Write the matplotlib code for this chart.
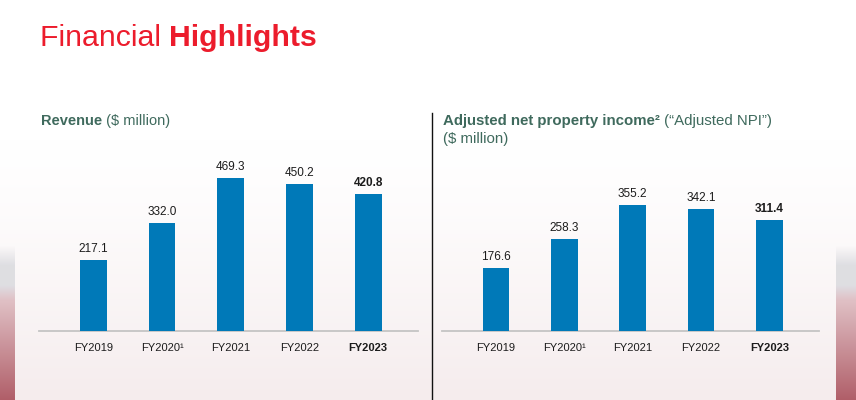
import numpy as np
import matplotlib
matplotlib.use("Agg")
import matplotlib.pyplot as plt
from matplotlib.lines import Line2D

# ---------------- data ----------------
years = ["FY2019", "FY2020¹", "FY2021", "FY2022", "FY2023"]
revenue = [217.1, 332.0, 469.3, 450.2, 420.8]
adj_npi = [176.6, 258.3, 355.2, 342.1, 311.4]
value_labels_rev = ["217.1", "332.0", "469.3", "450.2", "420.8"]
value_labels_npi = ["176.6", "258.3", "355.2", "342.1", "311.4"]

W, H = 856, 400
plt.rcParams["font.family"] = ["Liberation Sans", "DejaVu Sans"]

fig = plt.figure(figsize=(W / 100, H / 100), dpi=100)

# ---------------- background ----------------
bg = np.ones((H, W, 3))
ys = np.arange(H)
t = np.clip((ys - 140) / (H - 140), 0, 1) ** 1.3
base_top = np.array([1.0, 1.0, 1.0])
base_bot = np.array([245, 236, 237]) / 255
bg[:] = (base_top[None, :] * (1 - t[:, None]) + base_bot[None, :] * t[:, None])[:, None, :]

grey = np.array([222, 222, 226]) / 255
pink = np.array([224, 192, 197]) / 255
dark = np.array([176, 94, 104]) / 255

def strip(x0, x1):
    for y in range(245, H):
        if y < 265:
            a = (y - 245) / 20
            c = bg[y, x0] * (1 - a) + grey * a
        elif y < 285:
            c = grey
        elif y < 300:
            a = (y - 285) / 15
            c = grey * (1 - a) + pink * a
        else:
            s = (y - 300) / (H - 300)
            c = pink * (1 - s) + dark * s
        bg[y, x0:x1] = c

strip(0, 15)
strip(836, W)

bgax = fig.add_axes([0, 0, 1, 1], zorder=-10)
bgax.imshow(bg, aspect="auto", extent=(0, 1, 0, 1), interpolation="bilinear")
bgax.set_axis_off()

# ---------------- helpers ----------------
def fx(px):
    return px / W

def fy(py):
    return 1 - py / H

renderer = fig.canvas.get_renderer()

def rich_text(x, y, parts):
    """parts: list of (text, dict of kwargs); draws consecutively, pixel coordinates."""
    cx = x
    for s, kw in parts:
        t = fig.text(fx(cx), fy(y), s, va="baseline", ha="left", **kw)
        bb = t.get_window_extent(renderer=renderer)
        cx += bb.width

RED = "#ec1c2c"
SUB = "#3f6a5d"
BAR = "#0079b8"
TXT = "#1c1c1c"

# ---------------- titles ----------------
rich_text(40, 46, [("Financial ", dict(fontsize=21.8, color=RED)),
                   ("Highlights", dict(fontsize=21.8, color=RED, fontweight="bold"))])

rich_text(41, 125, [("Revenue", dict(fontsize=10.5, color=SUB, fontweight="bold")),
                    (" ($ million)", dict(fontsize=10.5, color=SUB))])

rich_text(443, 125, [("Adjusted net property income²", dict(fontsize=10.8, color=SUB, fontweight="bold")),
                     (" (“Adjusted NPI”)", dict(fontsize=10.8, color=SUB))])
rich_text(443, 143, [("($ million)", dict(fontsize=10.8, color=SUB))])

# divider
fig.add_artist(Line2D([fx(432), fx(432)], [fy(113), fy(400)], color="#111111", lw=1.0))

# ---------------- charts ----------------
def make_chart(left_px, right_px, base_px, px_per_unit, values, labels):
    height_px = 230
    ax = fig.add_axes([fx(left_px), fy(base_px), (right_px - left_px) / W, height_px / H])
    ax.set_facecolor("none")
    x = np.arange(len(values))
    ax.bar(x, values, width=0.39, color=BAR, zorder=3)
    ax.set_xlim(-0.79, 4.725)
    ax.set_ylim(0, height_px / px_per_unit)
    for i, (v, lab) in enumerate(zip(values, labels)):
        ax.annotate(lab, (i, v), xytext=(0, 8), textcoords="offset pixels",
                    ha="center", va="baseline", fontsize=8.5, color=TXT,
                    fontweight="bold" if i == len(values) - 1 else "normal")
    for s in ["top", "right", "left"]:
        ax.spines[s].set_visible(False)
    ax.spines["bottom"].set_color("#c4c4c4")
    ax.spines["bottom"].set_linewidth(1.3)
    ax.set_yticks([])
    ax.set_xticks(x)
    ax.set_xticklabels(years, fontsize=8, color=TXT)
    ax.tick_params(axis="x", length=0, pad=8.5)
    ax.get_xticklabels()[-1].set_fontweight("bold")
    return ax

make_chart(39, 418, 331, 0.3255, revenue, value_labels_rev)
make_chart(442, 819, 331, 0.356, adj_npi, value_labels_npi)

fig.savefig("out.png", dpi=100)
